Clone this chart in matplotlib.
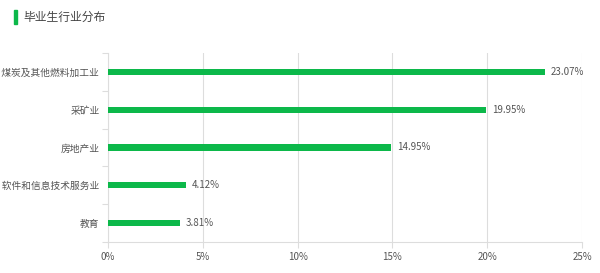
import matplotlib.pyplot as plt
from matplotlib.patches import Rectangle

plt.rcParams['font.family'] = ['Noto Sans CJK SC', 'DejaVu Sans']

categories = ["石油、煤炭及其他燃料加工业", "采矿业", "房地产业", "信息传输、软件和信息技术服务业", "教育"]
values = [23.07, 19.95, 14.95, 4.12, 3.81]
xticks = [0, 5, 10, 15, 20, 25]

green = "#0cb84a"
grid_c = "#dddddd"
text_c = "#555555"

fig = plt.figure(figsize=(6, 2.73), dpi=100)
ax = fig.add_axes([108 / 600, 1 - 242 / 273, (582 - 108) / 600, (242 - 53) / 273])

pos = list(range(len(categories)))
ax.barh(pos, values, height=0.16, color=green, zorder=3)
for p, v in zip(pos, values):
    ax.text(v + 0.3, p, f"{v:.2f}%", va="center", ha="left", fontsize=7, color=text_c)

ax.set_xlim(0, 25)
ax.set_ylim(len(categories) - 0.5, -0.5)
ax.set_xticks(xticks)
ax.set_xticklabels([f"{t}%" for t in xticks], fontsize=7, color=text_c)
ax.set_yticks(pos)
ax.set_yticklabels(categories, fontsize=7, color=text_c)
ax.set_yticks([p - 0.5 for p in pos] + [len(categories) - 0.5], minor=True)
ax.tick_params(axis="y", which="major", length=0, pad=6)
ax.tick_params(axis="y", which="minor", length=4, color=grid_c, width=0.8)
ax.tick_params(axis="x", length=4, color=grid_c, width=0.8, pad=3)
ax.grid(axis="x", color=grid_c, linewidth=0.8, zorder=0)
for s in ["top", "right"]:
    ax.spines[s].set_visible(False)
for s in ["left", "bottom"]:
    ax.spines[s].set_color(grid_c)
    ax.spines[s].set_linewidth(0.8)

fig.patches.append(Rectangle((14 / 600, 1 - 24 / 273), 3 / 600, 14 / 273,
                             transform=fig.transFigure, color=green, figure=fig))
fig.text(23 / 600, 1 - 17 / 273, "毕业生行业分布", fontsize=8.5, color="#444444", va="center")

fig.savefig("out.png", dpi=100)
